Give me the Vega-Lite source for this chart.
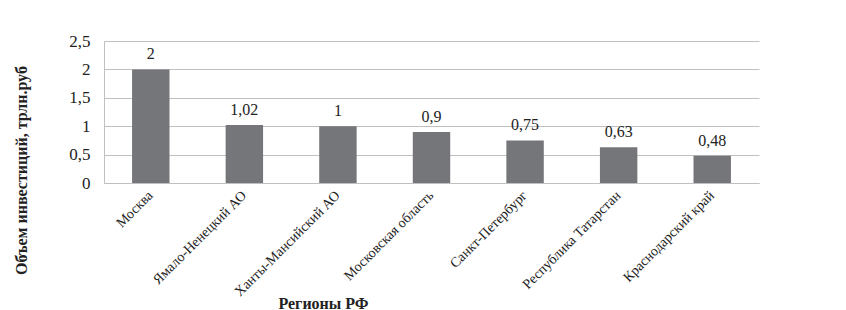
{
  "$schema": "https://vega.github.io/schema/vega-lite/v6.json",
  "width": 655,
  "height": 142,
  "autosize": {"type": "none"},
  "padding": {"left": 104, "top": 41, "right": 87, "bottom": 127},
  "background": "white",
  "config": {
    "locale": {"number": {"decimal": ",", "thousands": " ", "grouping": [3], "currency": ["", ""]}},
    "font": "Liberation Serif",
    "axis": {"labelFont": "Liberation Serif", "titleFont": "Liberation Serif"},
    "text": {"font": "Liberation Serif"},
    "view": {"stroke": null}
  },
  "data": {
    "values": [
      {"region": "Москва", "value": 2},
      {"region": "Ямало-Ненецкий АО", "value": 1.02},
      {"region": "Ханты-Мансийский АО", "value": 1},
      {"region": "Московская область", "value": 0.9},
      {"region": "Санкт-Петербург", "value": 0.75},
      {"region": "Республика Татарстан", "value": 0.63},
      {"region": "Краснодарский край", "value": 0.48}
    ]
  },
  "encoding": {
    "x": {
      "field": "region",
      "type": "nominal",
      "sort": null,
      "scale": {"paddingInner": 0.6, "paddingOuter": 0.3},
      "axis": {
        "title": "Регионы РФ",
        "titleFont": "Liberation Serif",
        "titleFontSize": 16,
        "titleFontWeight": "bold",
        "titleColor": "#222222",
        "titleX": 219,
        "titleY": 125,
        "titleBaseline": "alphabetic",
        "titleAnchor": null,
        "labelFont": "Liberation Serif",
        "labelAngle": -45,
        "labelAlign": "right",
        "labelBaseline": "middle",
        "labelFontSize": 14,
        "labelColor": "#222222",
        "labelPadding": 10,
        "labelLimit": 0,
        "ticks": false,
        "domainColor": "#c0c0c0",
        "grid": false
      }
    },
    "y": {
      "field": "value",
      "type": "quantitative",
      "scale": {"domain": [0, 2.5], "nice": false},
      "axis": {
        "title": "Объем инвестиций, трлн.руб",
        "titleFont": "Liberation Serif",
        "titleFontSize": 16,
        "titleFontWeight": "bold",
        "titleColor": "#222222",
        "titleX": -83,
        "titleY": 129,
        "titleBaseline": "middle",
        "titleAnchor": null,
        "values": [0, 0.5, 1, 1.5, 2, 2.5],
        "format": "~r",
        "labelFont": "Liberation Serif",
        "labelFontSize": 17,
        "labelColor": "#222222",
        "labelPadding": 14,
        "ticks": false,
        "domainColor": "#c0c0c0",
        "gridColor": "#c0c0c0",
        "gridWidth": 1.2
      }
    }
  },
  "layer": [
    {"mark": {"type": "bar", "color": "#757679"}},
    {
      "mark": {"type": "text", "dy": -10, "fontSize": 16, "font": "Liberation Serif", "color": "#222222", "baseline": "alphabetic"},
      "encoding": {"text": {"field": "value", "type": "quantitative", "format": "~r"}}
    }
  ]
}
